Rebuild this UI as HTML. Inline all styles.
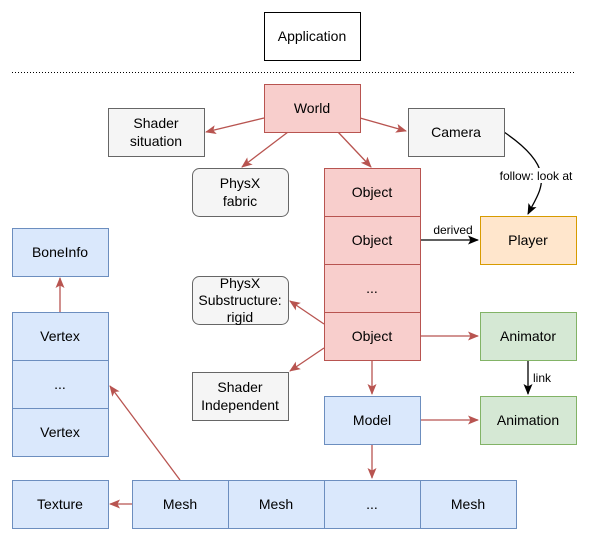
<!DOCTYPE html>
<html><head><meta charset="utf-8"><style>body{margin:0;background:#fff}svg{display:block}text{font-family:"Liberation Sans",Arial,sans-serif;font-size:14px;fill:#000}</style></head><body>
<svg width="591" height="542" viewBox="0 0 591 542" xmlns="http://www.w3.org/2000/svg">
<defs>
<marker id="r" markerWidth="12" markerHeight="12" refX="10" refY="6" orient="auto" markerUnits="userSpaceOnUse"><path d="M0,1.5 L11,6 L0,10.5 L2.5,6 Z" fill="#b85450"/></marker>
<marker id="k" markerWidth="12" markerHeight="12" refX="10" refY="6" orient="auto" markerUnits="userSpaceOnUse"><path d="M0,1.5 L11,6 L0,10.5 L2.5,6 Z" fill="#000"/></marker>
</defs>
<g text-anchor="middle">
<rect x="264.5" y="12.5" width="96" height="48" fill="#fff" stroke="#000"/><text x="312" y="41">Application</text>
<line x1="12" y1="72.5" x2="576" y2="72.5" stroke="#000" stroke-dasharray="1,2"/>
<g stroke="#b85450" fill="none" stroke-width="1.3">
<line x1="264" y1="118" x2="206" y2="132" marker-end="url(#r)"/>
<line x1="288" y1="132" x2="242" y2="167" marker-end="url(#r)"/>
<line x1="338" y1="132" x2="371" y2="167" marker-end="url(#r)"/>
<line x1="360" y1="118" x2="406" y2="131" marker-end="url(#r)"/>
<line x1="324" y1="324" x2="290" y2="301" marker-end="url(#r)"/>
<line x1="324" y1="348" x2="290" y2="371" marker-end="url(#r)"/>
<line x1="420" y1="336" x2="478" y2="336" marker-end="url(#r)"/>
<line x1="372" y1="360" x2="372" y2="394" marker-end="url(#r)"/>
<line x1="420" y1="420" x2="478" y2="420" marker-end="url(#r)"/>
<line x1="372" y1="444" x2="372" y2="478" marker-end="url(#r)"/>
<line x1="132" y1="504" x2="110" y2="504" marker-end="url(#r)"/>
<line x1="180" y1="480" x2="110" y2="386" marker-end="url(#r)"/>
<line x1="60" y1="312" x2="60" y2="278" marker-end="url(#r)"/>
</g>
<g stroke="#000" fill="none" stroke-width="1.3">
<line x1="420" y1="240" x2="478" y2="240" marker-end="url(#k)"/>
<line x1="528" y1="360" x2="528" y2="394" marker-end="url(#k)"/>
<path d="M504,132 C560,170 540,190 528,214" marker-end="url(#k)"/>
</g>
<rect x="264.5" y="84.5" width="96" height="48" fill="#f8cecc" stroke="#b85450"/><text x="312" y="113">World</text>
<rect x="108.5" y="108.5" width="96" height="48" fill="#f5f5f5" stroke="#666"/><text x="156" y="128">Shader</text><text x="156" y="146">situation</text>
<rect x="408.5" y="108.5" width="96" height="48" fill="#f5f5f5" stroke="#666"/><text x="456" y="137">Camera</text>
<rect x="192.5" y="168.5" width="96" height="48" rx="7" fill="#f5f5f5" stroke="#666"/><text x="240" y="188">PhysX</text><text x="240" y="206">fabric</text>
<rect x="324.5" y="168.5" width="96" height="48" fill="#f8cecc" stroke="#b85450"/><text x="372" y="197">Object</text>
<rect x="324.5" y="216.5" width="96" height="48" fill="#f8cecc" stroke="#b85450"/><text x="372" y="245">Object</text>
<rect x="324.5" y="264.5" width="96" height="48" fill="#f8cecc" stroke="#b85450"/><text x="372" y="293">...</text>
<rect x="324.5" y="312.5" width="96" height="48" fill="#f8cecc" stroke="#b85450"/><text x="372" y="341">Object</text>
<rect x="480.5" y="216.5" width="96" height="48" fill="#ffe6cc" stroke="#d79b00"/><text x="528" y="245">Player</text>
<rect x="12.5" y="228.5" width="96" height="48" fill="#dae8fc" stroke="#6c8ebf"/><text x="60" y="257">BoneInfo</text>
<rect x="12.5" y="312.5" width="96" height="48" fill="#dae8fc" stroke="#6c8ebf"/><text x="60" y="341">Vertex</text>
<rect x="12.5" y="360.5" width="96" height="48" fill="#dae8fc" stroke="#6c8ebf"/><text x="60" y="389">...</text>
<rect x="12.5" y="408.5" width="96" height="48" fill="#dae8fc" stroke="#6c8ebf"/><text x="60" y="437">Vertex</text>
<rect x="192.5" y="276.5" width="96" height="48" rx="7" fill="#f5f5f5" stroke="#666"/><text x="240" y="288">PhysX</text><text x="240" y="305">Substructure:</text><text x="240" y="322">rigid</text>
<rect x="480.5" y="312.5" width="96" height="48" fill="#d5e8d4" stroke="#82b366"/><text x="528" y="341">Animator</text>
<rect x="192.5" y="372.5" width="96" height="48" fill="#f5f5f5" stroke="#666"/><text x="240" y="392">Shader</text><text x="240" y="410">Independent</text>
<rect x="324.5" y="396.5" width="96" height="48" fill="#dae8fc" stroke="#6c8ebf"/><text x="372" y="425">Model</text>
<rect x="480.5" y="396.5" width="96" height="48" fill="#d5e8d4" stroke="#82b366"/><text x="528" y="425">Animation</text>
<rect x="12.5" y="480.5" width="96" height="48" fill="#dae8fc" stroke="#6c8ebf"/><text x="60" y="509">Texture</text>
<rect x="132.5" y="480.5" width="96" height="48" fill="#dae8fc" stroke="#6c8ebf"/><text x="180" y="509">Mesh</text>
<rect x="228.5" y="480.5" width="96" height="48" fill="#dae8fc" stroke="#6c8ebf"/><text x="276" y="509">Mesh</text>
<rect x="324.5" y="480.5" width="96" height="48" fill="#dae8fc" stroke="#6c8ebf"/><text x="372" y="509">...</text>
<rect x="420.5" y="480.5" width="96" height="48" fill="#dae8fc" stroke="#6c8ebf"/><text x="468" y="509">Mesh</text>
<rect x="494" y="168" width="84" height="15" fill="#fff"/>
<text x="536" y="180" style="font-size:12px">follow: look at</text>
<text x="453" y="234" style="font-size:12px">derived</text>
<rect x="529" y="370" width="24" height="14" fill="#fff"/>
<text x="542" y="382" style="font-size:12px">link</text>
</g>
</svg>
</body></html>
